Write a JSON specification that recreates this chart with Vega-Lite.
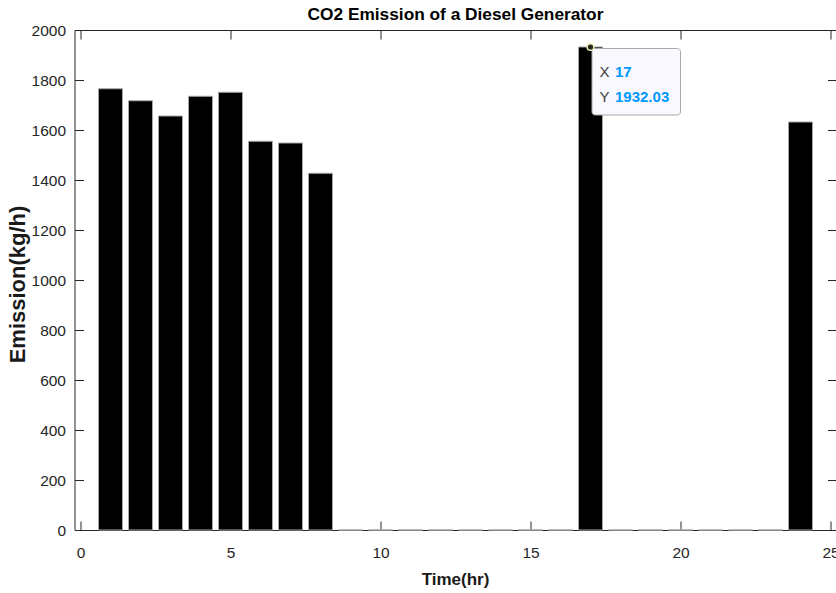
{
  "$schema": "https://vega.github.io/schema/vega-lite/v6.json",
  "autosize": {"type": "none"},
  "width": 762,
  "height": 500,
  "padding": {"left": 74.5, "top": 30, "right": 0, "bottom": 63},
  "background": "white",
  "title": {
    "text": "CO2 Emission of a Diesel Generator",
    "font": "Liberation Sans",
    "fontSize": 17.3,
    "fontWeight": "bold",
    "color": "#000000",
    "anchor": "middle",
    "baseline": "alphabetic",
    "offset": 10,
    "dy": 24
  },
  "config": {
    "view": {"stroke": null},
    "axis": {
      "grid": false,
      "zindex": 1,
      "domainColor": "#262626",
      "domainWidth": 1,
      "tickColor": "#262626",
      "tickWidth": 1,
      "tickSize": -9,
      "labelFont": "Liberation Sans",
      "labelFontSize": 15.5,
      "labelColor": "#262626",
      "labelFlush": false,
      "labelOverlap": false,
      "format": "d",
      "titleFont": "Liberation Sans",
      "titleFontWeight": "bold",
      "titleColor": "#1a1a1a"
    }
  },
  "datasets": {
    "hourly": [
      {"hour": 1, "emission": 1765},
      {"hour": 2, "emission": 1717},
      {"hour": 3, "emission": 1656},
      {"hour": 4, "emission": 1735},
      {"hour": 5, "emission": 1751},
      {"hour": 6, "emission": 1555},
      {"hour": 7, "emission": 1548},
      {"hour": 8, "emission": 1427},
      {"hour": 9, "emission": 0},
      {"hour": 10, "emission": 0},
      {"hour": 11, "emission": 0},
      {"hour": 12, "emission": 0},
      {"hour": 13, "emission": 0},
      {"hour": 14, "emission": 0},
      {"hour": 15, "emission": 0},
      {"hour": 16, "emission": 0},
      {"hour": 17, "emission": 1932.03},
      {"hour": 18, "emission": 0},
      {"hour": 19, "emission": 0},
      {"hour": 20, "emission": 0},
      {"hour": 21, "emission": 0},
      {"hour": 22, "emission": 0},
      {"hour": 23, "emission": 0},
      {"hour": 24, "emission": 1632}
    ],
    "datatip": [
      {"hour": 17, "emission": 1932.03}
    ]
  },
  "layer": [
    {
      "data": {"name": "hourly"},
      "mark": {"type": "bar", "width": 24, "fill": "#000000", "stroke": "#a6a6a6", "strokeWidth": 1},
      "encoding": {
        "x": {
          "field": "hour",
          "type": "quantitative",
          "scale": {"domain": [-0.2, 25.2], "nice": false, "zero": false, "padding": 0},
          "axis": {
            "orient": "bottom",
            "values": [0, 5, 10, 15, 20, 25],
            "labelPadding": 24,
            "title": "Time(hr)",
            "titleFontSize": 17,
            "titleX": 380.5,
            "titleY": 54,
            "titleAlign": "center",
            "titleBaseline": "alphabetic"
          }
        },
        "y": {
          "field": "emission",
          "type": "quantitative",
          "scale": {"domain": [0, 2000], "nice": false, "padding": 0},
          "axis": {
            "orient": "left",
            "values": [0, 200, 400, 600, 800, 1000, 1200, 1400, 1600, 1800, 2000],
            "labelPadding": 18,
            "title": "Emission(kg/h)",
            "titleFontSize": 22,
            "titleAngle": -90,
            "titleX": -57,
            "titleY": 254,
            "titleAlign": "center",
            "titleBaseline": "middle"
          }
        }
      }
    },
    {
      "data": {"name": "datatip"},
      "mark": {
        "type": "rect",
        "fill": "#f8f8fe",
        "stroke": "#a9a9a9",
        "strokeWidth": 1,
        "cornerRadius": 3,
        "xOffset": 1.5,
        "x2Offset": 90,
        "yOffset": 1.5,
        "y2Offset": 68
      },
      "encoding": {
        "x": {
          "field": "hour",
          "type": "quantitative",
          "axis": {"orient": "top", "values": [0, 5, 10, 15, 20, 25], "labels": false, "title": null}
        },
        "x2": {"field": "hour"},
        "y": {
          "field": "emission",
          "type": "quantitative",
          "axis": {
            "orient": "right",
            "values": [0, 200, 400, 600, 800, 1000, 1200, 1400, 1600, 1800, 2000],
            "labels": false,
            "title": null
          }
        },
        "y2": {"field": "emission"}
      }
    },
    {
      "data": {"name": "datatip"},
      "mark": {"type": "point", "filled": true, "size": 45, "fill": "#262626", "stroke": "#f3efb0", "strokeWidth": 1.5, "opacity": 1},
      "encoding": {
        "x": {"field": "hour", "type": "quantitative", "axis": null},
        "y": {"field": "emission", "type": "quantitative", "axis": null}
      }
    },
    {
      "data": {"name": "datatip"},
      "mark": {"type": "text", "text": "X", "align": "left", "baseline": "alphabetic", "dx": 9, "dy": 30, "font": "Liberation Sans", "fontSize": 15, "fill": "#404040"},
      "encoding": {
        "x": {"field": "hour", "type": "quantitative", "axis": null},
        "y": {"field": "emission", "type": "quantitative", "axis": null}
      }
    },
    {
      "data": {"name": "datatip"},
      "mark": {"type": "text", "text": "Y", "align": "left", "baseline": "alphabetic", "dx": 9, "dy": 55, "font": "Liberation Sans", "fontSize": 15, "fill": "#404040"},
      "encoding": {
        "x": {"field": "hour", "type": "quantitative", "axis": null},
        "y": {"field": "emission", "type": "quantitative", "axis": null}
      }
    },
    {
      "data": {"name": "datatip"},
      "mark": {"type": "text", "align": "left", "baseline": "alphabetic", "dx": 24.5, "dy": 30, "font": "Liberation Sans", "fontSize": 15, "fontWeight": "bold", "fill": "#0099ff"},
      "encoding": {
        "x": {"field": "hour", "type": "quantitative", "axis": null},
        "y": {"field": "emission", "type": "quantitative", "axis": null},
        "text": {"field": "hour", "type": "quantitative", "format": "d"}
      }
    },
    {
      "data": {"name": "datatip"},
      "mark": {"type": "text", "align": "left", "baseline": "alphabetic", "dx": 24.5, "dy": 55, "font": "Liberation Sans", "fontSize": 15, "fontWeight": "bold", "fill": "#0099ff"},
      "encoding": {
        "x": {"field": "hour", "type": "quantitative", "axis": null},
        "y": {"field": "emission", "type": "quantitative", "axis": null},
        "text": {"field": "emission", "type": "quantitative", "format": ".2f"}
      }
    }
  ],
  "resolve": {"axis": {"x": "independent", "y": "independent"}}
}
